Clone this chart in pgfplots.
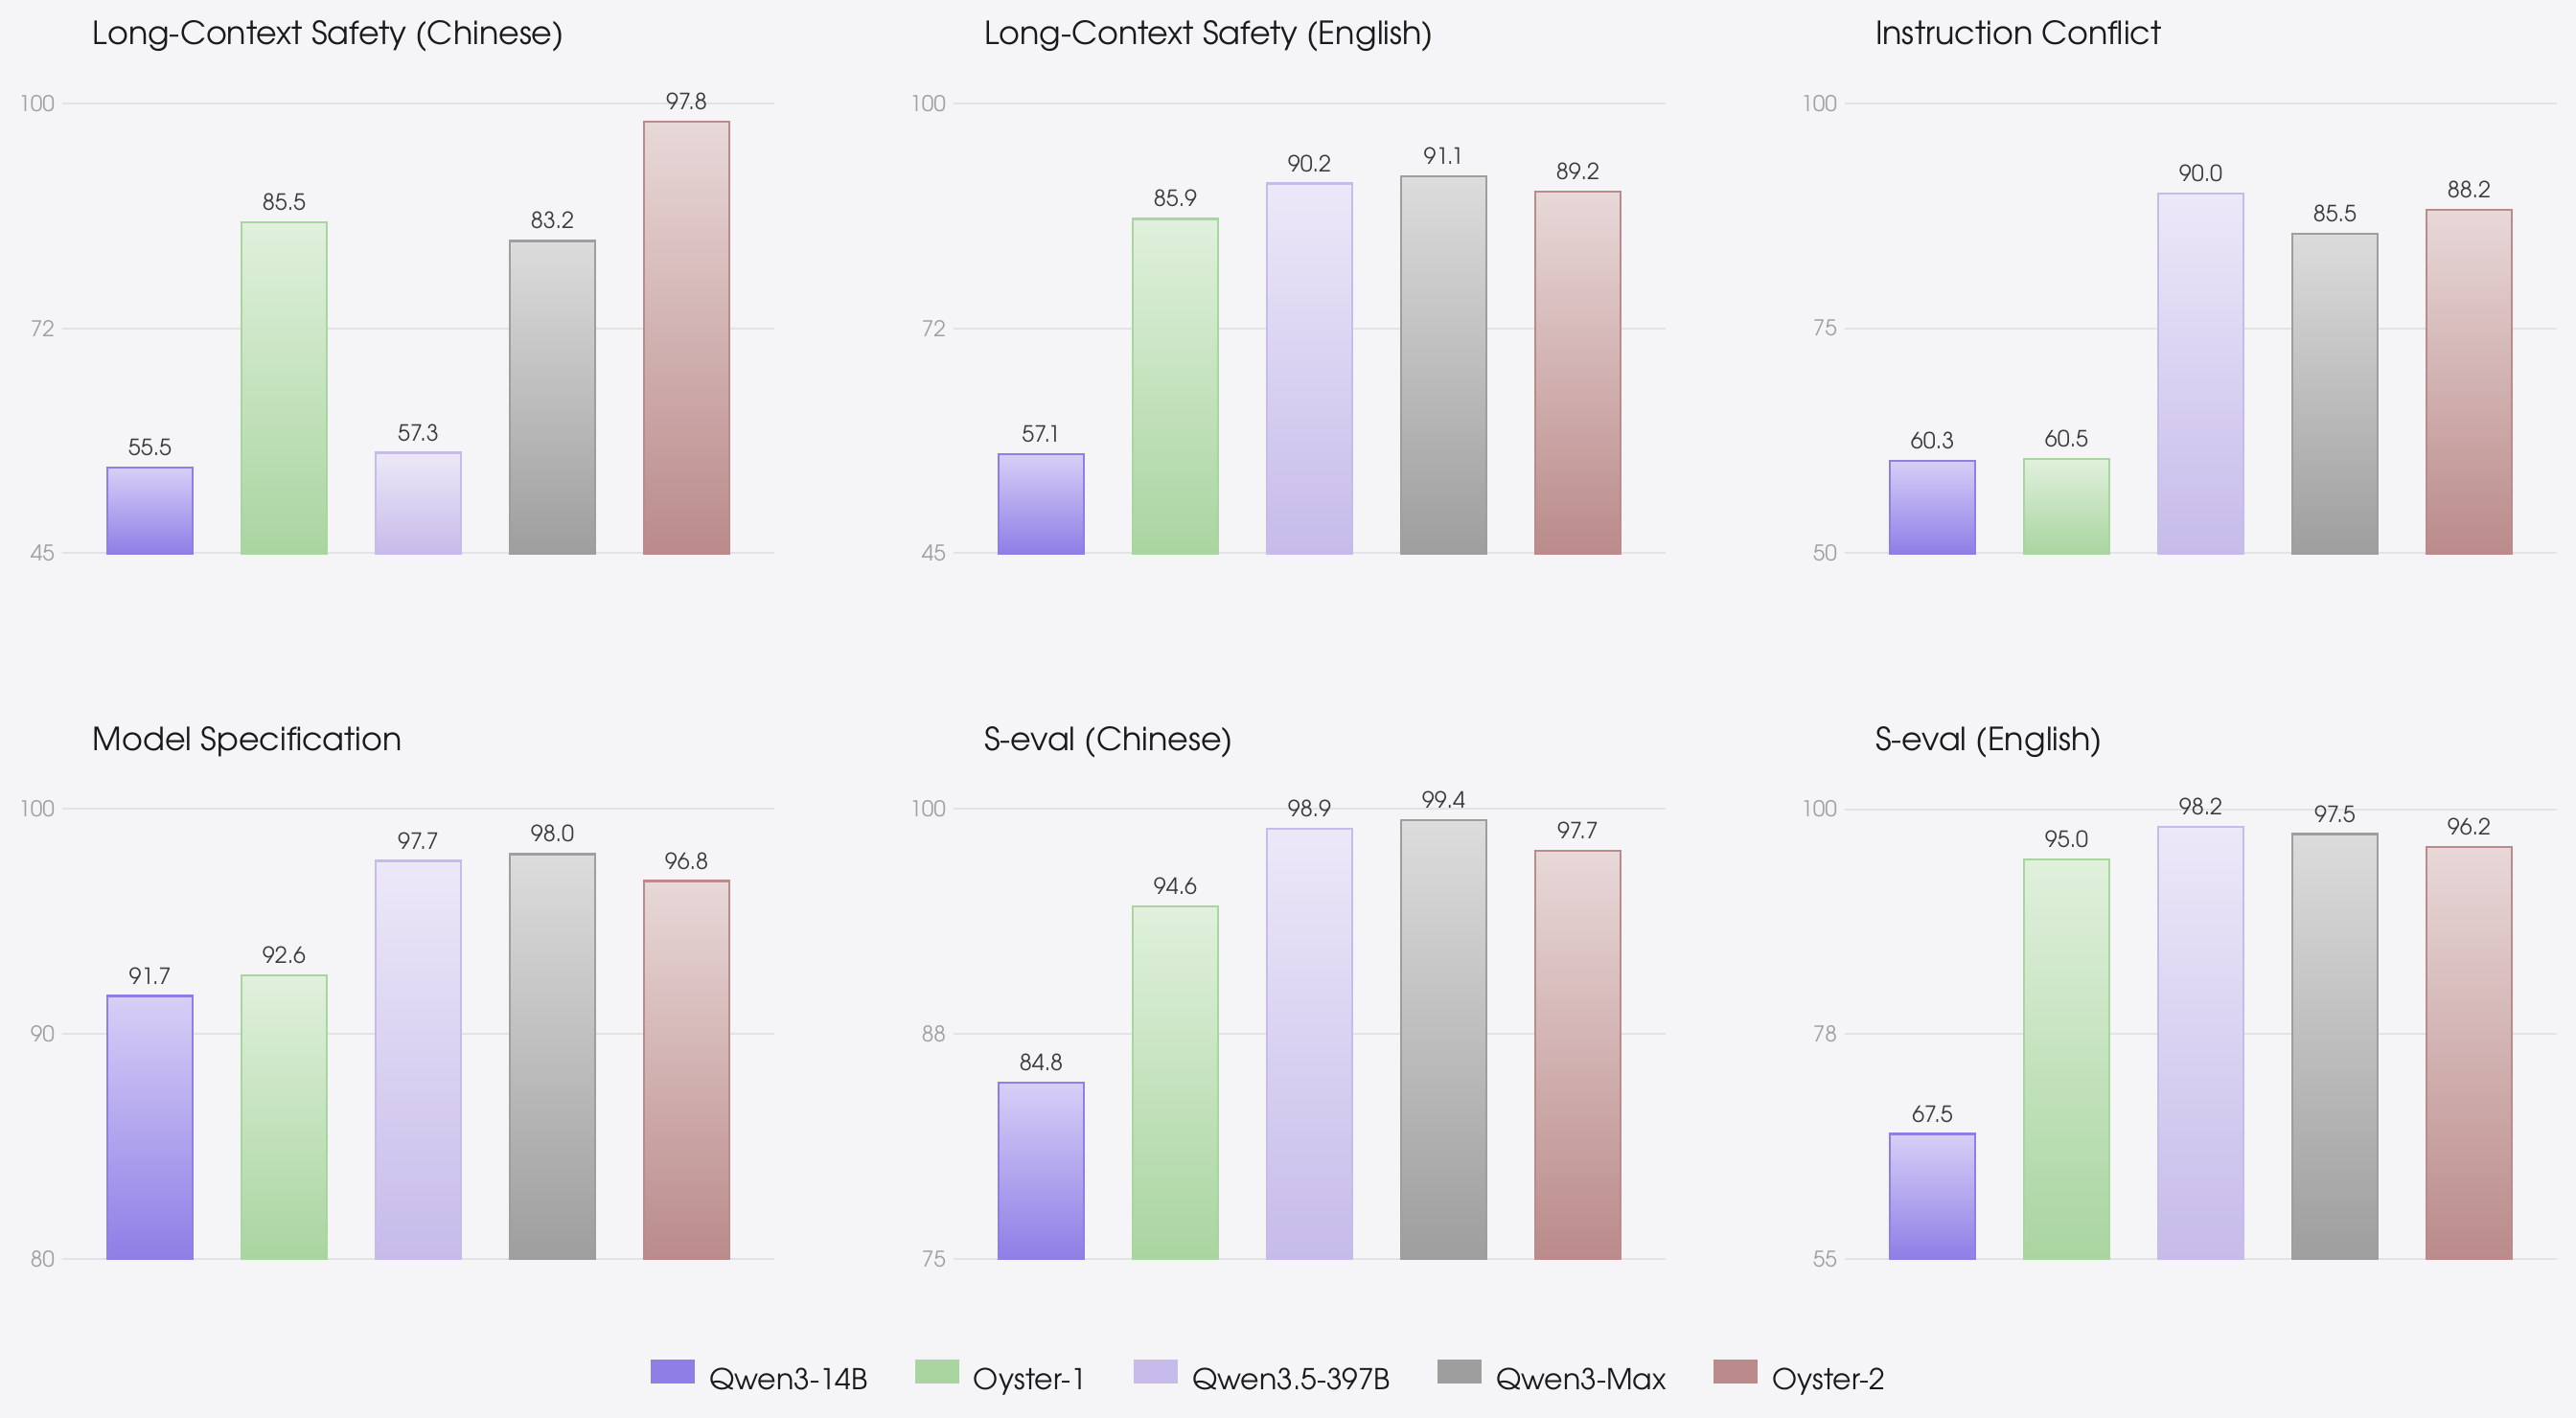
\documentclass[border=0pt]{standalone}
\usepackage{pgfplots}
\pgfplotsset{compat=1.18}
\usepackage{fontspec}
\setmainfont{texgyreadventor-regular.otf}
\definecolor{bgc}{HTML}{F5F5F7}
\definecolor{gridc}{HTML}{E3E3E7}
\definecolor{tickc}{HTML}{A0A0A0}
\definecolor{valc}{HTML}{3A3A3A}
\definecolor{titlec}{HTML}{1A1A1A}
\definecolor{ca}{HTML}{8F7EE6}\definecolor{cat}{HTML}{D7CFF7}
\definecolor{cb}{HTML}{A9D5A0}\definecolor{cbt}{HTML}{E0F0DC}
\definecolor{cc}{HTML}{C6BBEA}\definecolor{cct}{HTML}{EDE8F8}
\definecolor{cd}{HTML}{9E9E9E}\definecolor{cdt}{HTML}{DCDCDC}
\definecolor{ce}{HTML}{BA8B8A}\definecolor{cet}{HTML}{E8D8D8}
\pgfkeys{/pgf/number format/assume math mode=true}
\pgfplotsset{
  panel/.style={
    scale only axis, width=222.9bp, height=140.85bp,
    xmin=-0.654, xmax=4.654, ymax=100, clip=false,
    axis line style={draw=none}, xtick=\empty, major tick length=0pt,
    ymajorgrids, grid style={draw=gridc, line width=0.6bp},
    yticklabel style={font=\fontsize{6.8bp}{7.5bp}\selectfont, text=tickc, inner sep=0pt, xshift=-2.2bp},
    title style={at={(0,1)}, anchor=base west, xshift=9.4bp, yshift=12.4bp, inner sep=0pt,
      font=\fontsize{10bp}{12bp}\selectfont, text=titlec},
    ybar, bar width=0.636, bar shift=0pt,
    point meta=rawy,
    nodes near coords={\pgfmathprintnumber[fixed,fixed zerofill,precision=1]{\pgfplotspointmeta}},
    every node near coord/.append style={font=\fontsize{7bp}{8bp}\selectfont, text=valc, inner sep=0pt, anchor=south, yshift=3.3bp},
  },
  ybase/.style={ymin=#1, y coord trafo/.code={\pgfmathparse{##1-#1}}, y coord inv trafo/.code={\pgfmathparse{##1+#1}}},
  sa/.style={forget plot, bar shift=0pt, draw=ca, line width=0.7bp, top color=cat, bottom color=ca},
  sb/.style={forget plot, bar shift=0pt, draw=cb, line width=0.7bp, top color=cbt, bottom color=cb},
  sc/.style={forget plot, bar shift=0pt, draw=cc, line width=0.7bp, top color=cct, bottom color=cc},
  sd/.style={forget plot, bar shift=0pt, draw=cd, line width=0.7bp, top color=cdt, bottom color=cd},
  se/.style={forget plot, bar shift=0pt, draw=ce, line width=0.7bp, top color=cet, bottom color=ce},
}
\begin{document}
\begin{tikzpicture}
\useasboundingbox (0,0) rectangle (806.4bp,444bp);
\fill[bgc] (0,0) rectangle (806.4bp,444bp);
% Row 1
\begin{axis}[panel, ybase=45, at={(19.5bp,270.75bp)}, anchor=south west,
  title={Long-Context Safety (Chinese)}, ytick={45,72.5,100}, yticklabels={45,72,100}]
\addplot[sa] coordinates {(0,55.5)};
\addplot[sb] coordinates {(1,85.5)};
\addplot[sc] coordinates {(2,57.3)};
\addplot[sd] coordinates {(3,83.2)};
\addplot[se] coordinates {(4,97.8)};
\end{axis}
\begin{axis}[panel, ybase=45, at={(298.5bp,270.75bp)}, anchor=south west,
  title={Long-Context Safety (English)}, ytick={45,72.5,100}, yticklabels={45,72,100}]
\addplot[sa] coordinates {(0,57.1)};
\addplot[sb] coordinates {(1,85.9)};
\addplot[sc] coordinates {(2,90.2)};
\addplot[sd] coordinates {(3,91.1)};
\addplot[se] coordinates {(4,89.2)};
\end{axis}
\begin{axis}[panel, ybase=50, at={(577.5bp,270.75bp)}, anchor=south west,
  title={Instruction Conflict}, ytick={50,75,100}, yticklabels={50,75,100}]
\addplot[sa] coordinates {(0,60.3)};
\addplot[sb] coordinates {(1,60.5)};
\addplot[sc] coordinates {(2,90.0)};
\addplot[sd] coordinates {(3,85.5)};
\addplot[se] coordinates {(4,88.2)};
\end{axis}
% Row 2
\begin{axis}[panel, ybase=80, at={(19.5bp,49.8bp)}, anchor=south west,
  title={Model Specification}, ytick={80,90,100}, yticklabels={80,90,100}]
\addplot[sa] coordinates {(0,91.7)};
\addplot[sb] coordinates {(1,92.6)};
\addplot[sc] coordinates {(2,97.7)};
\addplot[sd] coordinates {(3,98.0)};
\addplot[se] coordinates {(4,96.8)};
\end{axis}
\begin{axis}[panel, ybase=75, at={(298.5bp,49.8bp)}, anchor=south west,
  title={S-eval (Chinese)}, ytick={75,87.5,100}, yticklabels={75,88,100},
  legend style={at={(-0.4253,-0.263)}, anchor=west, draw=none, fill=none,
    inner sep=0pt, outer sep=0pt,
    legend columns=5, font=\fontsize{9bp}{10.5bp}\selectfont, text=titlec,
    nodes={inner sep=0pt, outer sep=0pt},
    /tikz/every odd column/.append style={column sep=4.6bp},
    /tikz/every even column/.append style={column sep=14.7bp}},
  legend image code/.code={\fill[#1] (0bp,-0.7bp) rectangle (13.8bp,6.8bp);}]
\addplot[sa] coordinates {(0,84.8)};
\addplot[sb] coordinates {(1,94.6)};
\addplot[sc] coordinates {(2,98.9)};
\addplot[sd] coordinates {(3,99.4)};
\addplot[se] coordinates {(4,97.7)};
\addlegendimage{fill=ca, draw=none}
\addlegendimage{fill=cb, draw=none}
\addlegendimage{fill=cc, draw=none}
\addlegendimage{fill=cd, draw=none}
\addlegendimage{fill=ce, draw=none}
\legend{Qwen3-14B, Oyster-1, Qwen3.5-397B, Qwen3-Max, Oyster-2}
\end{axis}
\begin{axis}[panel, ybase=55, at={(577.5bp,49.8bp)}, anchor=south west,
  title={S-eval (English)}, ytick={55,77.5,100}, yticklabels={55,78,100}]
\addplot[sa] coordinates {(0,67.5)};
\addplot[sb] coordinates {(1,95.0)};
\addplot[sc] coordinates {(2,98.2)};
\addplot[sd] coordinates {(3,97.5)};
\addplot[se] coordinates {(4,96.2)};
\end{axis}
\end{tikzpicture}
\end{document}
